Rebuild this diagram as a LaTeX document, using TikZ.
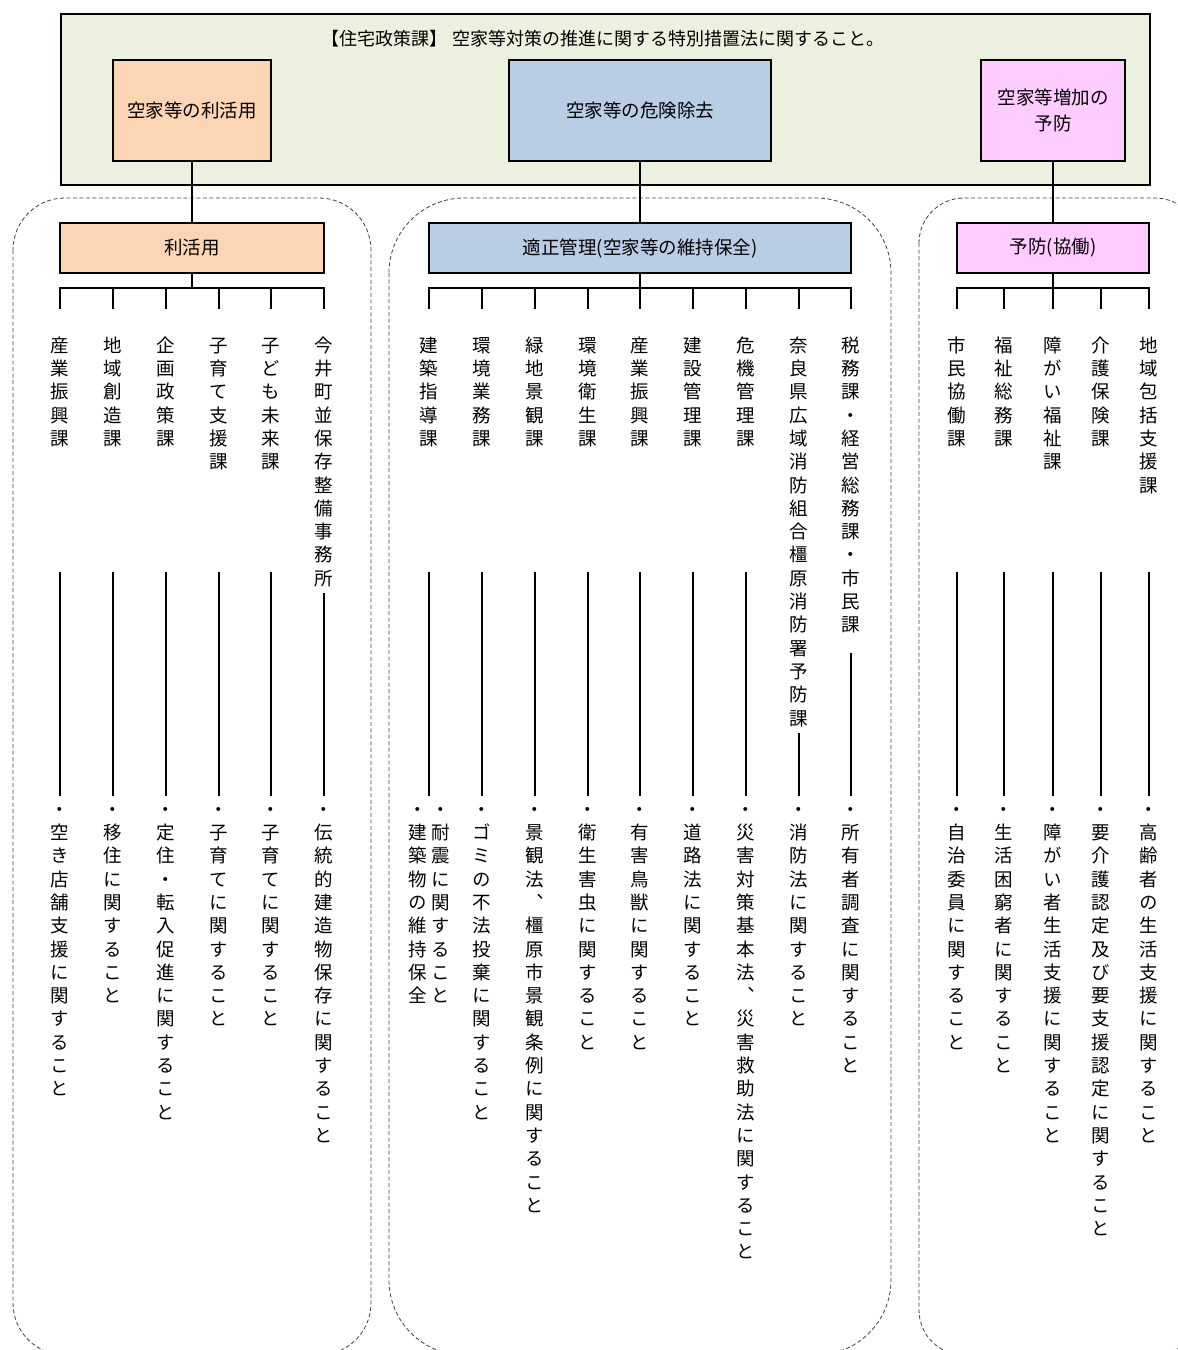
\documentclass[tikz,border=0pt]{standalone}
\usepackage{fontspec}
\newfontfamily\jp{Noto Sans CJK JP}
\newfontfamily\jpv{Noto Sans CJK JP}[RawFeature=+vert]

\definecolor{topgreen}{RGB}{235,241,222}
\definecolor{orangefill}{RGB}{252,213,181}
\definecolor{bluefill}{RGB}{185,205,229}
\definecolor{pinkfill}{RGB}{255,204,255}

% vertical (tategaki) text: one character per line, fixed pitch
\newlength\tatestep \setlength\tatestep{23.3pt}
\newcommand\tate[1]{\vbox{\baselineskip=\tatestep\lineskiplimit=-100pt\lineskip=0pt\relax\tatei#1\relax}}
\def\tatei#1{\ifx\relax#1\else\hbox to 20pt{\hss\vrule height 0.88em depth 0.12em width 0pt\relax#1\hss}\expandafter\tatei\fi}

\tikzset{
  conn/.style={line width=2pt},
  boxs/.style={draw, line width=2pt, inner sep=0pt, align=center,
    font=\jp\fontsize{18.5}{26}\selectfont},
  panel/.style={draw=black!75, line width=0.8pt, dash pattern=on 4pt off 2.5pt},
  tatenode/.style={anchor=north, inner sep=0pt, font=\jpv\fontsize{18.5}{23.3}\selectfont},
}

% one department column: tick from the bar, name, connector, duty
% #1 id, #2 x, #3 department, #4 top of lower connector, #5 duty
\newcommand\deptcol[5]{%
  \coordinate (#1t) at (#2,288);
  \coordinate (#1u) at (#2,309);
  \draw[conn] (#1t) -- (#1u);
  \node[tatenode] (#1d) at (#2,335.75) {\tate{#3}};
  \node[tatenode] (#1i) at (#2,799.75) {\tate{#5}};
  \coordinate (#1a) at (#2,#4);
  \coordinate (#1b) at (#2,796);
  \draw[conn] (#1a) -- (#1b);
}

\begin{document}
\begin{tikzpicture}[x=1pt,y=-1pt]
\useasboundingbox (0,0) rectangle (1178,1350);
\clip (0,0) rectangle (1178,1350);

% dashed group outlines
\draw[panel, rounded corners=52pt] (13,198) rectangle (371,1355);
\draw[panel, rounded corners=75pt] (389,198) rectangle (891,1355);
\draw[panel, rounded corners=45pt] (919,198) rectangle (1200,1355);

% top frame
\node[draw, line width=2pt, fill=topgreen, inner sep=0pt, anchor=north west,
      minimum width=1089pt, minimum height=171pt] (main) at (60,13) {};
\node[inner sep=0pt, font=\jp\fontsize{18}{22}\selectfont] (title) at (603,39)
  {【住宅政策課】 空家等対策の推進に関する特別措置法に関すること。};

% policy boxes
\node[boxs, fill=orangefill, minimum width=158pt, minimum height=101pt] (pa) at (192,110.5) {空家等の利活用};
\node[boxs, fill=bluefill, minimum width=262pt, minimum height=101pt] (pb) at (640,110.5) {空家等の危険除去};
\node[boxs, fill=pinkfill, minimum width=144pt, minimum height=101pt] (pc) at (1053,110.5) {空家等増加の\\予防};

% group boxes
\node[boxs, fill=orangefill, minimum width=264pt, minimum height=50pt] (ga) at (192,248) {利活用};
\node[boxs, fill=bluefill, minimum width=422pt, minimum height=50pt] (gb) at (640,248) {適正管理(空家等の維持保全)};
\node[boxs, fill=pinkfill, minimum width=192pt, minimum height=50pt] (gc) at (1053,248) {予防(協働)};

% policy to group
\draw[conn] (pa.south) -- (pa.south |- ga.north);
\draw[conn] (pb.south) -- (pb.south |- gb.north);
\draw[conn] (pc.south) -- (pc.south |- gc.north);

% bars
\coordinate (barA) at (ga.south |- 0,288);
\coordinate (barB) at (gb.south |- 0,288);
\coordinate (barC) at (gc.south |- 0,288);
\draw[conn] (ga.south) -- (barA);
\draw[conn] (gb.south) -- (barB);
\draw[conn] (gc.south) -- (barC);
\draw[conn, line cap=rect] (60,288) -- (324,288);
\draw[conn, line cap=rect] (429,288) -- (851,288);
\draw[conn, line cap=rect] (957,288) -- (1149,288);

% utilisation
\deptcol{a1}{60}{産業振興課}{572}{・空き店舗支援に関すること}
\deptcol{a2}{113}{地域創造課}{572}{・移住に関すること}
\deptcol{a3}{166}{企画政策課}{572}{・定住・転入促進に関すること}
\deptcol{a4}{219}{子育て支援課}{572}{・子育てに関すること}
\deptcol{a5}{271}{子ども未来課}{572}{・子育てに関すること}
\deptcol{a6}{324}{今井町並保存整備事務所}{593}{・伝統的建造物保存に関すること}

% proper management
\coordinate (b1t) at (429,288);
\coordinate (b1u) at (429,309);
\draw[conn] (b1t) -- (b1u);
\node[tatenode] (b1d) at (429,335.75) {\tate{建築指導課}};
\node[tatenode] (b1i) at (441,799.75) {\tate{・耐震に関すること}};
\node[tatenode] (b1j) at (418,799.75) {\tate{・建築物の維持保全}};
\coordinate (b1a) at (429,572);
\coordinate (b1b) at (429,796);
\draw[conn] (b1a) -- (b1b);
\deptcol{b2}{482}{環境業務課}{572}{・ゴミの不法投棄に関すること}
\deptcol{b3}{535}{緑地景観課}{572}{・景観法、橿原市景観条例に関すること}
\deptcol{b4}{588}{環境衛生課}{572}{・衛生害虫に関すること}
\deptcol{b5}{640}{産業振興課}{572}{・有害鳥獣に関すること}
\deptcol{b6}{693}{建設管理課}{572}{・道路法に関すること}
\deptcol{b7}{746}{危機管理課}{572}{・災害対策基本法、災害救助法に関すること}
\deptcol{b8}{799}{奈良県広域消防組合橿原消防署予防課}{733}{・消防法に関すること}
\deptcol{b9}{851}{税務課・経営総務課・市民課}{653}{・所有者調査に関すること}

% prevention
\deptcol{c1}{957}{市民協働課}{572}{・自治委員に関すること}
\deptcol{c2}{1004}{福祉総務課}{572}{・生活困窮者に関すること}
\deptcol{c3}{1053}{障がい福祉課}{572}{・障がい者生活支援に関すること}
\deptcol{c4}{1101}{介護保険課}{572}{・要介護認定及び要支援認定に関すること}
\deptcol{c5}{1149}{地域包括支援課}{572}{・高齢者の生活支援に関すること}
\end{tikzpicture}
\end{document}
